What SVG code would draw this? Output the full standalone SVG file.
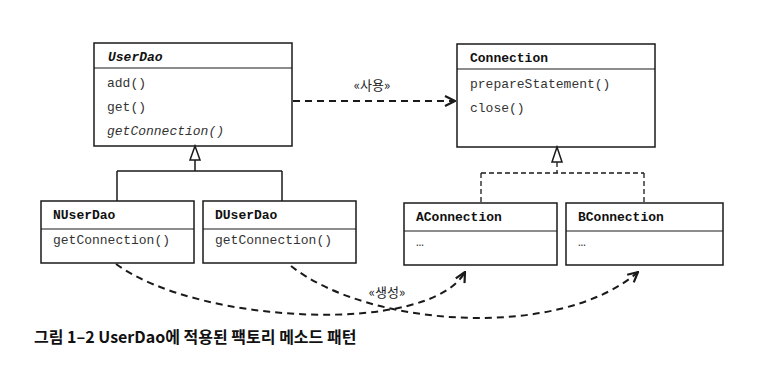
<svg xmlns="http://www.w3.org/2000/svg" width="773" height="370" viewBox="0 0 773 370">
<defs>
<style>
.box{fill:#fff;stroke:#1a1a1a;stroke-width:1.5}
.div{stroke:#1a1a1a;stroke-width:1.2}
.hd{font-family:"Liberation Mono","DejaVu Sans Mono",monospace;font-weight:bold;font-size:13px;fill:#111}
.mb{font-family:"Liberation Mono","DejaVu Sans Mono",monospace;font-size:13px;fill:#333}
.lbl{font-family:"Noto Sans CJK KR","Noto Sans",sans-serif;font-size:13px;fill:#222}
.cap{font-family:"Noto Sans CJK KR","Noto Sans",sans-serif;font-weight:bold;font-size:16px;fill:#111}
.ln{fill:none;stroke:#1a1a1a;stroke-width:1.5}
.dl{fill:none;stroke:#1a1a1a;stroke-width:1.3;stroke-dasharray:5 3}
.da{fill:none;stroke:#1a1a1a;stroke-width:2;stroke-dasharray:7 5}
.tri{fill:#fff;stroke:#1a1a1a;stroke-width:1.5}
</style>
<marker id="open" viewBox="0 0 12 12" refX="11" refY="6" markerWidth="12" markerHeight="12" markerUnits="userSpaceOnUse" orient="auto">
<path d="M1,1 L11,6 L1,11" fill="none" stroke="#1a1a1a" stroke-width="2.2"/>
</marker>
</defs>
<g id="UserDao">
<rect class="box" x="94" y="43" width="198" height="103"/>
<line class="div" x1="94" y1="68" x2="292" y2="68"/>
<text class="hd" x="108" y="61" font-style="italic">UserDao</text>
<text class="mb" x="107" y="87">add()</text>
<text class="mb" x="107" y="111">get()</text>
<text class="mb" x="107" y="135" font-style="italic">getConnection()</text>
</g>
<g id="Connection">
<rect class="box" x="457" y="44" width="198" height="103"/>
<line class="div" x1="457" y1="69" x2="655" y2="69"/>
<text class="hd" x="470" y="62">Connection</text>
<text class="mb" x="470" y="88">prepareStatement()</text>
<text class="mb" x="470" y="112">close()</text>
</g>
<g id="NUserDao">
<rect class="box" x="41" y="201" width="153" height="62"/>
<line class="div" x1="41" y1="229" x2="194" y2="229"/>
<text class="hd" x="53" y="219">NUserDao</text>
<text class="mb" x="53" y="244">getConnection()</text>
</g>
<g id="DUserDao">
<rect class="box" x="203" y="201" width="153" height="62"/>
<line class="div" x1="203" y1="229" x2="356" y2="229"/>
<text class="hd" x="215" y="219">DUserDao</text>
<text class="mb" x="215" y="244">getConnection()</text>
</g>
<g id="AConnection">
<rect class="box" x="404" y="203" width="153" height="62"/>
<line class="div" x1="404" y1="231" x2="557" y2="231"/>
<text class="hd" x="416" y="221">AConnection</text>
<text class="mb" x="416" y="246">…</text>
</g>
<g id="BConnection">
<rect class="box" x="566" y="203" width="157" height="62"/>
<line class="div" x1="566" y1="231" x2="723" y2="231"/>
<text class="hd" x="578" y="221">BConnection</text>
<text class="mb" x="578" y="246">…</text>
</g>
<g id="connectors">
<path class="ln" d="M195,160 V171 M117,171 H282 M117,171 V201 M282,171 V201"/>
<polygon class="tri" points="195,146 190,160 200,160"/>
<path class="dl" d="M557,162 V173 M481,173 H644 M481,173 V203 M644,173 V203"/>
<polygon class="tri" points="557,147 552,162 562,162"/>
<path class="da" d="M293,101 H455" marker-end="url(#open)"/>
<text class="lbl" x="372" y="90" text-anchor="middle">«사용»</text>
<path class="da" d="M116,264 C200,325 430,335 465,272" marker-end="url(#open)"/>
<path class="da" d="M291,266 C370,328 560,340 638,272" marker-end="url(#open)"/>
<text class="lbl" x="387" y="297" text-anchor="middle">«생성»</text>
</g>
<text class="cap" x="34" y="343">그림 1–2 UserDao에 적용된 팩토리 메소드 패턴</text>
</svg>
